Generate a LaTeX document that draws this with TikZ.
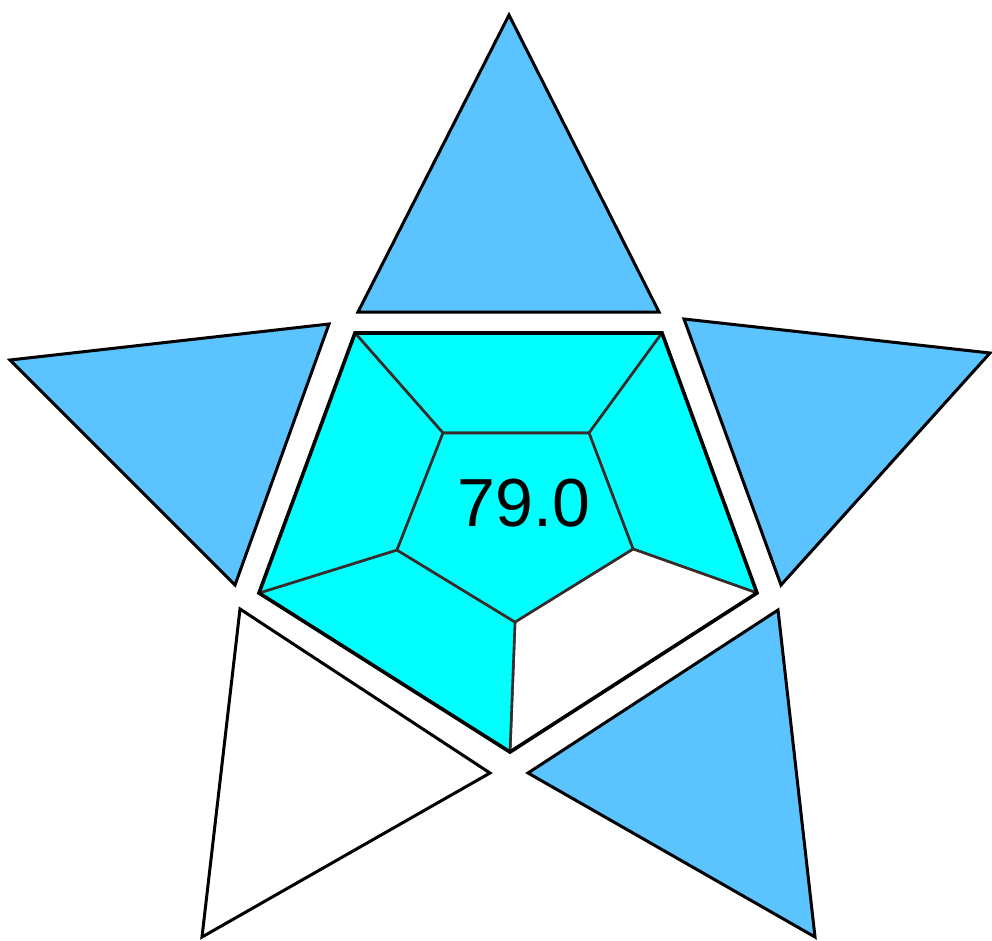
\documentclass[tikz,border=0pt]{standalone}
\usepackage{fontspec}
\setmainfont{Liberation Sans}
\definecolor{triblue}{HTML}{5BC4FF}
\definecolor{segcyan}{HTML}{00FFFF}
\definecolor{innerline}{HTML}{3A2A2A}
\tikzset{
  tri/.style={draw=black, line width=3pt, line join=miter, fill=triblue},
  triwhite/.style={draw=black, line width=3pt, line join=miter, fill=white},
  seg/.style={draw=innerline, line width=2.6pt, line join=round, fill=segcyan},
  segwhite/.style={draw=innerline, line width=2.6pt, line join=round, fill=white},
  outer/.style={draw=black, line width=3.6pt, line join=miter},
  valuetext/.style={font=\fontsize{68}{68}\selectfont, text=black, inner sep=0pt}
}
\begin{document}
\begin{tikzpicture}[x=1pt, y=-1pt]
\useasboundingbox (0,0) rectangle (992,940);
% outer pentagon vertices
\coordinate (O1) at (355,333);
\coordinate (O2) at (662,333);
\coordinate (O3) at (757,593);
\coordinate (O4) at (510,752);
\coordinate (O5) at (259,593);
% inner pentagon vertices
\coordinate (I1) at (443,433);
\coordinate (I2) at (589,433);
\coordinate (I3) at (633,549);
\coordinate (I4) at (515,622);
\coordinate (I5) at (397,550);
% star triangles
\draw[tri] (509,15) -- (659,312) -- (358,312) -- cycle;
\draw[tri] (10,360) -- (329,324) -- (235,585) -- cycle;
\draw[tri] (684,319) -- (990,353) -- (781,585) -- cycle;
\draw[triwhite] (240,609) -- (490,773) -- (202,937) -- cycle;
\draw[tri] (778,610) -- (528,773) -- (815,937) -- cycle;
% pentagon segments
\draw[seg] (O1) -- (O2) -- (I2) -- (I1) -- cycle;
\draw[seg] (O2) -- (O3) -- (I3) -- (I2) -- cycle;
\draw[segwhite] (O3) -- (O4) -- (I4) -- (I3) -- cycle;
\draw[seg] (O4) -- (O5) -- (I5) -- (I4) -- cycle;
\draw[seg] (O5) -- (O1) -- (I1) -- (I5) -- cycle;
\draw[seg] (I1) -- (I2) -- (I3) -- (I4) -- (I5) -- cycle;
\draw[outer] (O1) -- (O2) -- (O3) -- (O4) -- (O5) -- cycle;
\node[valuetext] (val) at (524,503) {79.0};
\end{tikzpicture}
\end{document}
